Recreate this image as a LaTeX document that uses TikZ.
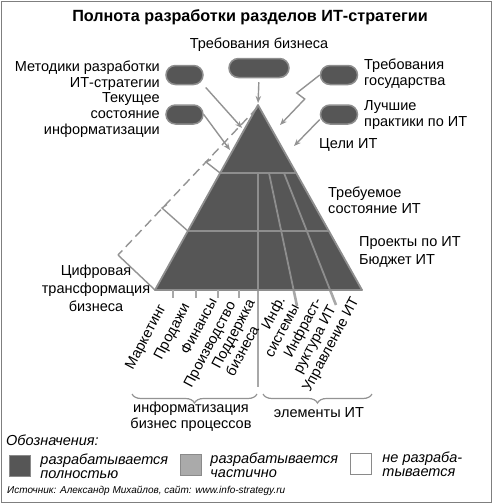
\documentclass[tikz,border=0pt]{standalone}
\usepackage{fontspec}
\setmainfont{Liberation Sans}
\usetikzlibrary{arrows.meta,positioning,decorations.pathreplacing,calc}
\definecolor{pyrFill}{HTML}{565656}
\definecolor{pyrDraw}{HTML}{8E8E8E}
\definecolor{lineGray}{HTML}{939393}
\definecolor{extGray}{HTML}{A8A8A8}
\definecolor{midFill}{HTML}{AAAAAA}
\definecolor{midDraw}{HTML}{8A8A8A}
\definecolor{frameGray}{HTML}{7F7F7F}
\tikzset{
  font=\fontsize{14.5}{16}\selectfont,
  lbl/.style    ={inner sep=0pt, align=left},
  pill/.style   ={draw=pyrDraw, fill=pyrFill, rounded corners=9.5pt, line width=1.5pt, minimum height=19pt, minimum width=37pt, inner sep=0pt},
  arr/.style    ={-{Stealth[length=7pt,width=5.5pt]}, lineGray, line width=1.4pt},
  divline/.style={pyrDraw, line width=1.8pt},
  ext/.style    ={extGray, line width=2.6pt},
  notch/.style  ={extGray, line width=1.4pt},
  brk/.style    ={lineGray, line width=1.4pt},
  vlab/.style   ={rotate=62, anchor=east, inner sep=0pt},
  brace/.style  ={decorate, decoration={brace, amplitude=9pt}, lineGray, line width=1.2pt},
  key/.style    ={minimum width=21pt, minimum height=21pt, inner sep=0pt, line width=1.5pt},
  keytext/.style={font=\fontsize{14.5}{14}\selectfont\itshape, align=left, inner sep=0pt},
}

\begin{document}
\begin{tikzpicture}[x=1pt,y=-1pt]
  \useasboundingbox (0,0) rectangle (493,504);
  \draw[frameGray, line width=1.5pt] (1.5,1.5) rectangle (491.5,502.5);

  \node[font=\fontsize{16.2}{18}\selectfont\bfseries] (title) at (250,17) {Полнота разработки разделов ИТ-стратегии};

  % pyramid
  \coordinate (apex) at (258,105);
  \coordinate (bl) at (155,290);
  \coordinate (br) at (362,290);
  \fill[pyrFill] (apex) -- (bl) -- (br) -- cycle;
  \coordinate (l1) at ($(apex)!0.3676!(bl)$);
  \coordinate (r1) at ($(apex)!0.3676!(br)$);
  \coordinate (l2) at ($(apex)!0.681!(bl)$);
  \coordinate (r2) at ($(apex)!0.681!(br)$);
  \draw[divline] (l1) -- (r1);
  \draw[divline] (l2) -- (r2);
  % columns and their ends below the base
  \coordinate (v0) at (258,173);   \coordinate (v0e) at (258,387);
  \coordinate (v1) at (269,173);   \coordinate (v1e) at (297,306);
  \coordinate (v2) at (284,173);   \coordinate (v2e) at (336,305);
  \draw[divline] (v0) -- (258,290);
  \draw[ext] (258,290) -- (v0e);
  \draw[divline] (v1) -- ($(v1)!0.88!(v1e)$);
  \draw[ext] ($(v1)!0.88!(v1e)$) -- (v1e);
  \draw[divline] (v2) -- ($(v2)!0.886!(v2e)$);
  \draw[ext] ($(v2)!0.886!(v2e)$) -- (v2e);
  \draw[divline, line join=round] (apex) -- (bl) -- (br) -- cycle;
  \foreach \x in {173,196,218,239}
    \draw[notch] (\x,290) -- (\x,298);

  % brackets on the left side
  \draw[brk, dash pattern=on 9pt off 5pt] (257,108) -- (118,255);
  \draw[brk] (118,255) -- (bl);
  \draw[brk] (211,159.5) -- (206,162) -- (l1);
  \draw[brk] (167,204.5) -- (162,208) -- (l2);

  % inputs
  \node (bizlab) at (259,45) {Требования бизнеса};
  \node[pill, minimum width=60pt] (bizpill) at (259,68) {};
  \node[pill] (metpill) at (184.5,75) {};
  \node[pill] (tekpill) at (184.5,114.5) {};
  \node[pill] (gospill) at (339,75) {};
  \node[pill] (lucpill) at (339,114.5) {};
  \node[lbl, anchor=east, align=right] (metlab) at (160,76) {Методики разработки\\ИТ-стратегии};
  \node[lbl, anchor=east, align=right] (teklab) at (160,115) {Текущее\\состояние\\информатизации};
  \node[lbl, anchor=west] (goslab) at (364,74) {Требования\\государства};
  \node[lbl, anchor=west] (luclab) at (364,115) {Лучшие\\практики по ИТ};

  \coordinate (metEnd) at (242,128);
  \coordinate (tekEnd) at (230,150);
  \coordinate (gosEnd) at (280,125);
  \coordinate (lucEnd) at (294,146);
  \draw[arr, shorten <=4pt, shorten >=2pt] (bizpill.south) -- (apex);
  \draw[arr, shorten <=3pt] (metpill.south east) -- (metEnd);
  \draw[arr] (tekpill.east) -- (tekEnd);
  \draw[arr] (gospill.west) -- ++(-23,18) -- ++(8,6) -- (gosEnd);
  \draw[arr] ([yshift=-5pt]lucpill.west) -- (lucEnd);

  % levels
  \node[lbl, anchor=west] (goals) at (319,145) {Цели ИТ};
  \node[lbl, anchor=west] (target) at (328,200) {Требуемое\\состояние ИТ};
  \node[lbl, anchor=west, font=\fontsize{14.5}{18}\selectfont] (proj) at (359,252) {Проекты по ИТ\\Бюджет ИТ};
  \node[lbl, align=center, font=\fontsize{14.5}{18}\selectfont] (digital) at (96,288) {Цифровая\\трансформация\\бизнеса};

  % columns
  \node[vlab] (mkt)  at (163,306) {Маркетинг};
  \node[vlab] (sale) at (187,305) {Продажи};
  \node[vlab] (fin)  at (213,299) {Финансы};
  \node[vlab] (prod) at (233,303) {Производство};
  \node[vlab, align=left] (supp) at (258,304) {Поддержка\\бизнеса};
  \node[vlab, align=right] (infsys) at (288,301) {Инф.\\системы};
  \node[vlab, align=right] (infra) at (326,303) {Инфраст-\\руктура ИТ};
  \node[vlab] (mgmt) at (356,299) {Управление ИТ};

  \draw[brace] (257,394) -- (132,394);
  \draw[brace] (372,394) -- (263,394);
  \node[lbl, align=center] (bizproc) at (191,417) {информатизация\\бизнес процессов};
  \node (itel) at (319,413) {элементы ИТ};

  % legend
  \node[lbl, anchor=west, font=\fontsize{14.5}{16}\selectfont\itshape] (keytitle) at (6,440) {Обозначения:};
  \node[key, draw=midDraw, fill=pyrFill] (kfull) at (20,466) {};
  \node[keytext, right=9pt of kfull] (kfulltxt) {разрабатывается\\полностью};
  \node[key, draw=midDraw, fill=midFill] (kpart) at (191,465) {};
  \node[keytext, right=8pt of kpart] (kparttxt) {разрабатывается\\частично};
  \node[key, draw=midDraw, fill=white] (knone) at (361,464) {};
  \node[keytext, right=10pt of knone] (knonetxt) {не разраба-\\тывается};
  \node[lbl, anchor=west, font=\fontsize{10}{12}\selectfont\itshape] (source) at (7,491) {Источник: Александр Михайлов, сайт: www.info-strategy.ru};
\end{tikzpicture}
\end{document}
